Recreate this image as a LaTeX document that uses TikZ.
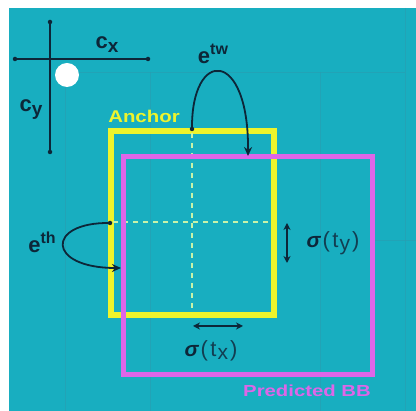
\documentclass[tikz,border=0pt]{standalone}
\usepackage{fontspec}
\setmainfont{Liberation Sans}
\usetikzlibrary{arrows.meta}
\definecolor{bgteal}{HTML}{18AEC0}
\definecolor{gridc}{HTML}{2A9DB0}
\definecolor{ancy}{HTML}{EEF42C}
\definecolor{predm}{HTML}{DE66E8}
\definecolor{inkd}{HTML}{0D2638}
\definecolor{inkm}{HTML}{123E52}
\definecolor{dashc}{HTML}{C8F2A8}
\tikzset{
  gridline/.style={draw=gridc, line width=0.8pt, opacity=0.6},
  anchorbox/.style={draw=ancy, line width=6pt},
  predbox/.style={draw=predm, line width=5pt},
  centerdash/.style={draw=dashc, line width=2pt, dash pattern=on 5pt off 5pt},
  crossline/.style={draw=inkd, line width=2pt},
  curvearrow/.style={draw=inkd, line width=1.8pt, -{Stealth[length=9pt,width=8pt]}},
  dblarrow/.style={draw=inkd, line width=1.6pt, {Stealth[length=7pt,width=7pt]}-{Stealth[length=7pt,width=7pt]}},
  lbl/.style={inner sep=0pt, text=inkd, font=\bfseries},
  endpt/.style={circle, fill=inkd, inner sep=0pt, minimum size=4.5pt},
}
\newcommand{\fs}[2]{{\fontsize{#1}{#1}\selectfont #2}}
\newcommand{\sigmalbl}[1]{\fs{21}{\bfseries\itshape σ}\kern2pt{\color{inkm}\fs{22}{\mdseries(\kern2.5pt t\kern1pt\raisebox{-3pt}{\fs{21}{#1}}\kern2pt)}}}
\begin{document}
\begin{tikzpicture}[x=1pt,y=-1pt]
\useasboundingbox (0,0) rectangle (416,411);
\fill[white] (0,0) rectangle (416,411);
\fill[bgteal] (9,8) rectangle (416,411);
% faint grid
\draw[gridline] (65,72) -- (65,411);
\draw[gridline] (150,72) -- (150,411);
\draw[gridline] (320,72) -- (320,411);
\draw[gridline] (405,8) -- (405,411);
\draw[gridline] (65,72) -- (405,72);
\draw[gridline] (375,240) -- (416,240);
% crosshair
\node[endpt] (hl) at (15,59) {};
\node[endpt] (hr) at (148,59) {};
\node[endpt] (vt) at (50,22) {};
\node[endpt] (vb) at (50,152) {};
\draw[crossline] (hl) -- (hr);
\draw[crossline] (vt) -- (vb);
\node[circle, fill=white, minimum size=24pt, inner sep=0pt] (cell) at (67,75) {};
\node[lbl] (cx) at (107,45) {\fs{22}{c}\raisebox{-4pt}{\fs{19}{x}}};
\node[lbl] (cy) at (31,110) {\fs{22}{c}\raisebox{-4pt}{\fs{19}{y}}};
% anchor box and center lines
\draw[anchorbox] (111,131) rectangle (274,315);
\draw[centerdash] (192,133) -- (192,313);
\draw[centerdash] (113,222) -- (272,222);
\node[inner sep=0pt, text=ancy, font=\bfseries\fontsize{17}{17}\selectfont, xscale=1.2] (anc) at (144,116) {Anchor};
% predicted box
\draw[predbox] (123,157) rectangle (372,375);
\node[inner sep=0pt, text=predm, font=\bfseries\fontsize{16}{16}\selectfont, xscale=1.27] (pbb) at (307,391) {Predicted BB};
% e^tw arrow
\node[endpt] (tws) at (192,129) {};
\coordinate (twe) at (248,156);
\draw[curvearrow] (tws.center) .. controls (191,48) and (249,48) .. (twe);
\node[lbl] (etw) at (213,54) {\fs{22}{e}\raisebox{9pt}{\fs{16}{tw}}};
% e^th arrow
\node[endpt] (ths) at (110,223) {};
\coordinate (the) at (121,268);
\draw[curvearrow] (ths.center) .. controls (46,222) and (46,268) .. (the);
\node[lbl] (eth) at (42,242) {\fs{22}{e}\raisebox{9pt}{\fs{16}{th}}};
% sigma arrows
\coordinate (tyt) at (287,223);
\coordinate (tyb) at (287,263);
\draw[dblarrow] (tyt) -- (tyb);
\node[lbl] (sty) at (333,243) {\sigmalbl{y}};
\coordinate (txl) at (193,326);
\coordinate (txr) at (243,326);
\draw[dblarrow] (txl) -- (txr);
\node[lbl] (stx) at (211,351) {\sigmalbl{x}};
\end{tikzpicture}
\end{document}
